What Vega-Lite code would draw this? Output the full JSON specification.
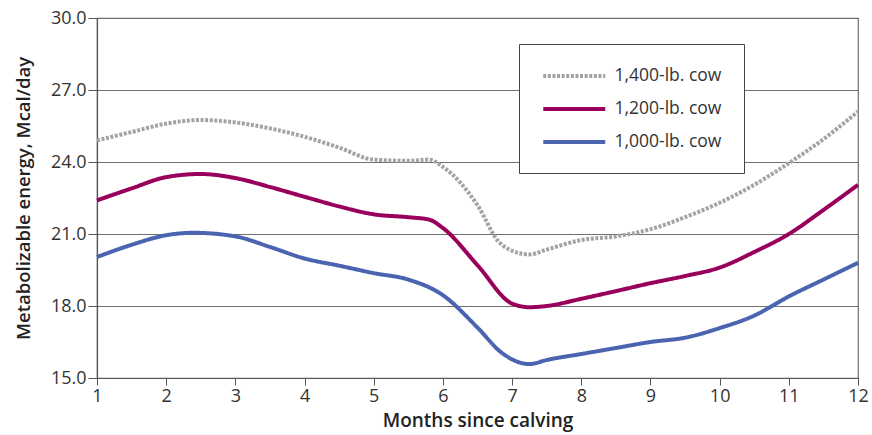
{
  "$schema": "https://vega.github.io/schema/vega-lite/v6.json",
  "autosize": "none",
  "width": 761,
  "height": 360,
  "padding": {"left": 97, "top": 18, "right": 14, "bottom": 57},
  "background": "white",
  "config": {
    "font": "Open Sans",
    "view": {"stroke": "#6f6f6f", "strokeWidth": 1.2}
  },
  "data": {
    "values": [
      {"m": 1, "s": "1,400-lb. cow", "v": 24.9},
      {"m": 1.5, "s": "1,400-lb. cow", "v": 25.25},
      {"m": 2, "s": "1,400-lb. cow", "v": 25.6},
      {"m": 2.5, "s": "1,400-lb. cow", "v": 25.75},
      {"m": 3, "s": "1,400-lb. cow", "v": 25.65},
      {"m": 3.5, "s": "1,400-lb. cow", "v": 25.4},
      {"m": 4, "s": "1,400-lb. cow", "v": 25.05},
      {"m": 4.5, "s": "1,400-lb. cow", "v": 24.6},
      {"m": 5, "s": "1,400-lb. cow", "v": 24.1},
      {"m": 5.5, "s": "1,400-lb. cow", "v": 24.05},
      {"m": 5.8, "s": "1,400-lb. cow", "v": 24.1},
      {"m": 6, "s": "1,400-lb. cow", "v": 23.8},
      {"m": 6.5, "s": "1,400-lb. cow", "v": 22.2},
      {"m": 6.8, "s": "1,400-lb. cow", "v": 20.7},
      {"m": 7, "s": "1,400-lb. cow", "v": 20.3},
      {"m": 7.25, "s": "1,400-lb. cow", "v": 20.15},
      {"m": 7.5, "s": "1,400-lb. cow", "v": 20.35},
      {"m": 8, "s": "1,400-lb. cow", "v": 20.75},
      {"m": 8.5, "s": "1,400-lb. cow", "v": 20.9},
      {"m": 9, "s": "1,400-lb. cow", "v": 21.2},
      {"m": 9.5, "s": "1,400-lb. cow", "v": 21.7},
      {"m": 10, "s": "1,400-lb. cow", "v": 22.3},
      {"m": 10.5, "s": "1,400-lb. cow", "v": 23.05},
      {"m": 11, "s": "1,400-lb. cow", "v": 23.95},
      {"m": 11.5, "s": "1,400-lb. cow", "v": 24.95},
      {"m": 12, "s": "1,400-lb. cow", "v": 26.1},
      {"m": 1, "s": "1,200-lb. cow", "v": 22.4},
      {"m": 1.5, "s": "1,200-lb. cow", "v": 22.9},
      {"m": 2, "s": "1,200-lb. cow", "v": 23.37},
      {"m": 2.5, "s": "1,200-lb. cow", "v": 23.5},
      {"m": 3, "s": "1,200-lb. cow", "v": 23.33},
      {"m": 3.5, "s": "1,200-lb. cow", "v": 22.96},
      {"m": 4, "s": "1,200-lb. cow", "v": 22.55},
      {"m": 4.5, "s": "1,200-lb. cow", "v": 22.15},
      {"m": 5, "s": "1,200-lb. cow", "v": 21.82},
      {"m": 5.5, "s": "1,200-lb. cow", "v": 21.7},
      {"m": 5.8, "s": "1,200-lb. cow", "v": 21.6},
      {"m": 6, "s": "1,200-lb. cow", "v": 21.25},
      {"m": 6.5, "s": "1,200-lb. cow", "v": 19.7},
      {"m": 7, "s": "1,200-lb. cow", "v": 18.1},
      {"m": 7.25, "s": "1,200-lb. cow", "v": 17.95},
      {"m": 7.5, "s": "1,200-lb. cow", "v": 18.0},
      {"m": 8, "s": "1,200-lb. cow", "v": 18.3},
      {"m": 8.5, "s": "1,200-lb. cow", "v": 18.62},
      {"m": 9, "s": "1,200-lb. cow", "v": 18.95},
      {"m": 9.5, "s": "1,200-lb. cow", "v": 19.25},
      {"m": 10, "s": "1,200-lb. cow", "v": 19.6},
      {"m": 10.5, "s": "1,200-lb. cow", "v": 20.25},
      {"m": 11, "s": "1,200-lb. cow", "v": 21.0},
      {"m": 11.5, "s": "1,200-lb. cow", "v": 22.0},
      {"m": 12, "s": "1,200-lb. cow", "v": 23.05},
      {"m": 1, "s": "1,000-lb. cow", "v": 20.04},
      {"m": 1.5, "s": "1,000-lb. cow", "v": 20.55},
      {"m": 2, "s": "1,000-lb. cow", "v": 20.95},
      {"m": 2.4, "s": "1,000-lb. cow", "v": 21.05},
      {"m": 3, "s": "1,000-lb. cow", "v": 20.9},
      {"m": 3.5, "s": "1,000-lb. cow", "v": 20.46},
      {"m": 4, "s": "1,000-lb. cow", "v": 19.98},
      {"m": 4.5, "s": "1,000-lb. cow", "v": 19.68},
      {"m": 5, "s": "1,000-lb. cow", "v": 19.37},
      {"m": 5.5, "s": "1,000-lb. cow", "v": 19.1},
      {"m": 6, "s": "1,000-lb. cow", "v": 18.45},
      {"m": 6.5, "s": "1,000-lb. cow", "v": 17.1},
      {"m": 6.85, "s": "1,000-lb. cow", "v": 16.05},
      {"m": 7.25, "s": "1,000-lb. cow", "v": 15.58},
      {"m": 7.5, "s": "1,000-lb. cow", "v": 15.75},
      {"m": 8, "s": "1,000-lb. cow", "v": 16.0},
      {"m": 8.5, "s": "1,000-lb. cow", "v": 16.25},
      {"m": 9, "s": "1,000-lb. cow", "v": 16.5},
      {"m": 9.5, "s": "1,000-lb. cow", "v": 16.68},
      {"m": 10, "s": "1,000-lb. cow", "v": 17.08},
      {"m": 10.5, "s": "1,000-lb. cow", "v": 17.6},
      {"m": 11, "s": "1,000-lb. cow", "v": 18.4},
      {"m": 11.5, "s": "1,000-lb. cow", "v": 19.1},
      {"m": 12, "s": "1,000-lb. cow", "v": 19.8}
    ]
  },
  "mark": {"type": "line", "interpolate": "monotone", "strokeWidth": 4},
  "encoding": {
    "x": {
      "field": "m", "type": "quantitative",
      "scale": {"domain": [1, 12], "nice": false, "zero": false},
      "axis": {
        "values": [1,2,3,4,5,6,7,8,9,10,11,12],
        "format": "d",
        "title": "Months since calving",
        "titleFont": "Open Sans", "titleFontSize": 19, "titleFontWeight": 600, "titleColor": "#222",
        "titlePadding": 6,
        "labelFont": "Open Sans", "labelFontSize": 18, "labelColor": "#333",
        "labelPadding": 2,
        "domainColor": "#555", "domainWidth": 1.2,
        "tickColor": "#555", "tickSize": 7,
        "grid": false,
        "labelFlush": false
      }
    },
    "y": {
      "field": "v", "type": "quantitative",
      "scale": {"domain": [15, 30], "nice": false, "zero": false},
      "axis": {
        "values": [15, 18, 21, 24, 27, 30],
        "format": ".1f",
        "title": "Metabolizable energy, Mcal/day",
        "titleFont": "Open Sans", "titleFontSize": 18.5, "titleFontWeight": 600, "titleColor": "#222",
        "titlePadding": 17,
        "labelFont": "Open Sans", "labelFontSize": 18, "labelColor": "#333",
        "labelPadding": 2,
        "domainColor": "#555", "domainWidth": 1.2,
        "tickColor": "#555", "tickSize": 9,
        "grid": true, "gridColor": "#6f6f6f", "gridWidth": 1.2
      }
    },
    "color": {
      "field": "s", "type": "nominal",
      "scale": {
        "domain": ["1,400-lb. cow", "1,200-lb. cow", "1,000-lb. cow"],
        "range": ["#a3a3a3", "#99005b", "#4a64b0"]
      },
      "legend": {
        "title": null,
        "orient": "none", "legendX": 422, "legendY": 26,
        "fillColor": "white", "strokeColor": "#444", "padding": 22,
        "symbolType": "M-1,0H7", "symbolSize": 240.25, "symbolStrokeWidth": 4,
        "labelFont": "Open Sans", "labelFontSize": 17.5, "labelColor": "#333",
        "labelOffset": 53.5, "rowPadding": 14
      }
    },
    "strokeDash": {
      "field": "s", "type": "nominal",
      "scale": {
        "domain": ["1,400-lb. cow", "1,200-lb. cow", "1,000-lb. cow"],
        "range": [[3, 1.6], [1, 0], [1, 0]]
      },
      "legend": {
        "title": null,
        "orient": "none", "legendX": 422, "legendY": 26,
        "fillColor": "white", "strokeColor": "#444", "padding": 22,
        "symbolType": "M-1,0H7", "symbolSize": 240.25, "symbolStrokeWidth": 4,
        "labelFont": "Open Sans", "labelFontSize": 17.5, "labelColor": "#333",
        "labelOffset": 53.5, "rowPadding": 14
      }
    }
  }
}
